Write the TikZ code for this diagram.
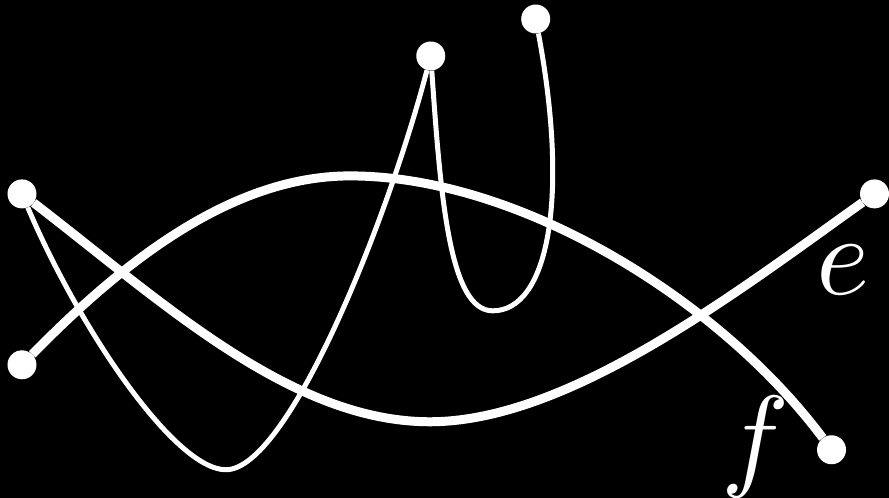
\documentclass[tikz,border=0pt]{standalone}
\tikzset{
  vtx/.style={circle, fill=white, inner sep=0pt, minimum size=29pt},
  heavy/.style={draw=white, line width=9pt},
  light/.style={draw=white, line width=5pt},
  lbl/.style={text=white, inner sep=0pt, scale=11.4}
}
\begin{document}
\begin{tikzpicture}[x=1pt,y=-1pt]
  \fill[black] (0,0) rectangle (889,498);
  % vertices
  \node[vtx] (a) at (22,194) {};
  \node[vtx] (b) at (22,365) {};
  \node[vtx] (c) at (431,56) {};
  \node[vtx] (d) at (536,19) {};
  \node[vtx] (e) at (875,194) {};
  \node[vtx] (f) at (832,450) {};
  % thin curves
  \draw[light] (a) .. controls (80,330) and (175,470) .. (226,470)
    .. controls (287,470) and (385,230) .. (c);
  \draw[light] (c) .. controls (441,200) and (450,311) .. (493,311)
    .. controls (548,311) and (570,200) .. (d);
  % thick curves
  \draw[heavy] (b) .. controls (120,265) and (230,176) .. (350,176)
    .. controls (520,176) and (720,300) .. (f);
  \draw[heavy] (a) .. controls (160,300) and (290,422) .. (430,422)
    .. controls (570,422) and (740,290) .. (e);
  % labels
  \node[lbl] (elbl) at (843,270) {$e$};
  \node[lbl] (flbl) at (756,447) {$f$};
\end{tikzpicture}
\end{document}
